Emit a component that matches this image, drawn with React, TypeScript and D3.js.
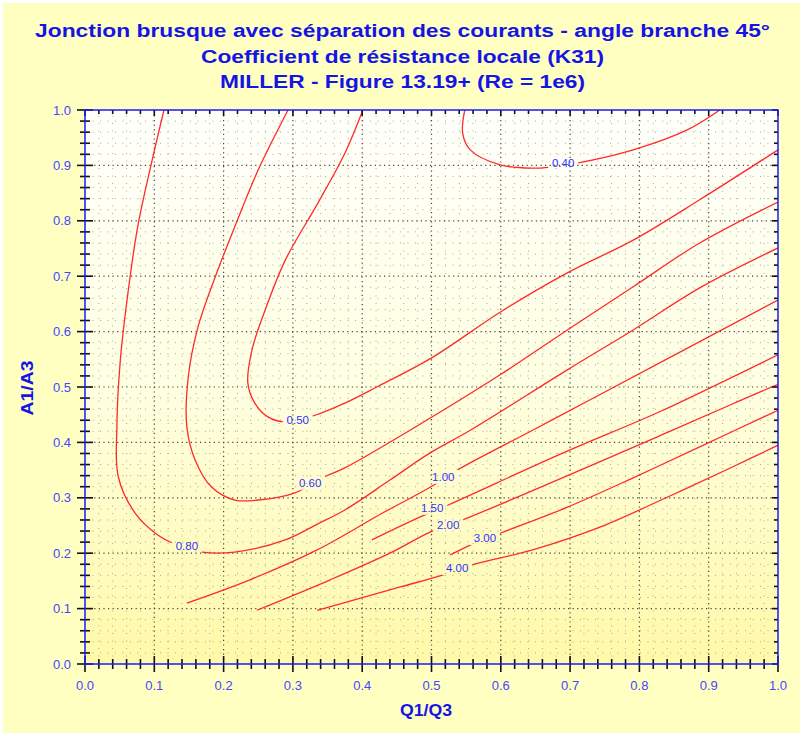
import React from "react";
import * as d3 from "d3";

// contour levels and the label spot of each one (Q1/Q3, A1/A3)
const levels = [0.4, 0.5, 0.6, 0.8, 1.0, 1.5, 2.0, 3.0, 4.0];
const labelPos: [number, number][] = [
  [0.69, 0.904], [0.307, 0.44], [0.325, 0.327], [0.147, 0.213], [0.517, 0.338],
  [0.501, 0.282], [0.524, 0.251], [0.577, 0.227], [0.537, 0.173],
];

// iso-lines
const k040: [number, number][] = [
  [0.548, 1.0], [0.545, 0.958], [0.556, 0.928], [0.599, 0.901], [0.646, 0.895], [0.671, 0.897],
  [0.71, 0.904], [0.791, 0.928], [0.869, 0.964], [0.916, 1.0],
];
const k050: [number, number][] = [
  [0.401, 1.0], [0.375, 0.922], [0.336, 0.832], [0.289, 0.729], [0.26, 0.639], [0.241, 0.567],
  [0.235, 0.507], [0.245, 0.471], [0.264, 0.446], [0.289, 0.437], [0.332, 0.449], [0.375, 0.471],
  [0.421, 0.5], [0.502, 0.554], [0.599, 0.635], [0.696, 0.706], [0.791, 0.765], [0.887, 0.838], [1.0, 0.928],
];
const k060: [number, number][] = [
  [0.293, 1.0], [0.25, 0.892], [0.216, 0.789], [0.188, 0.699], [0.163, 0.608], [0.149, 0.518],
  [0.147, 0.428], [0.159, 0.368], [0.183, 0.319], [0.216, 0.296], [0.25, 0.296], [0.303, 0.309],
  [0.346, 0.338], [0.375, 0.354], [0.469, 0.422], [0.599, 0.522], [0.696, 0.603], [0.791, 0.681],
  [0.887, 0.76], [1.0, 0.834],
];
const k080: [number, number][] = [
  [0.114, 1.0], [0.097, 0.91], [0.076, 0.789], [0.062, 0.67], [0.051, 0.549], [0.046, 0.428],
  [0.048, 0.338], [0.072, 0.273], [0.105, 0.233], [0.127, 0.218], [0.169, 0.202], [0.216, 0.202],
  [0.289, 0.224], [0.336, 0.253], [0.375, 0.278], [0.44, 0.332], [0.498, 0.381], [0.556, 0.422],
  [0.696, 0.531], [0.791, 0.603], [0.887, 0.679], [1.0, 0.751],
];
const k100: [number, number][] = [
  [0.147, 0.11], [0.238, 0.152], [0.335, 0.206], [0.43, 0.273], [0.498, 0.319], [0.537, 0.35],
  [0.646, 0.422], [0.729, 0.477], [1.0, 0.657],
];
const k150: [number, number][] = [
  [0.414, 0.224], [0.483, 0.265], [0.524, 0.287], [0.69, 0.381], [0.834, 0.458], [1.0, 0.558],
];
const k200: [number, number][] = [
  [0.248, 0.097], [0.354, 0.152], [0.44, 0.2], [0.498, 0.238], [0.545, 0.26], [0.848, 0.422],
  [0.941, 0.473], [1.0, 0.505],
];
const k300: [number, number][] = [
  [0.527, 0.197], [0.56, 0.217], [0.599, 0.236], [0.696, 0.283], [0.791, 0.336], [0.887, 0.392], [1.0, 0.458],
];
const k400: [number, number][] = [
  [0.335, 0.097], [0.455, 0.139], [0.517, 0.161], [0.558, 0.179], [0.646, 0.206], [0.743, 0.247],
  [0.84, 0.301], [0.935, 0.356], [1.0, 0.395],
];
const contours = [k040, k050, k060, k080, k100, k150, k200, k300, k400];

const ticks = [0, 0.1, 0.2, 0.3, 0.4, 0.5, 0.6, 0.7, 0.8, 0.9, 1.0];
const minorTicks = d3.range(0, 51).map((i) => i / 50).filter((v) => Math.round(v * 50) % 5 !== 0);

const titleLines = [
  "Jonction brusque avec séparation des courants - angle branche 45°",
  "Coefficient de résistance locale (K31)",
  "MILLER - Figure 13.19+ (Re = 1e6)",
];
const titleWidths = [735, 403, 365];

const W = 803;
const H = 736;
const font = "'Liberation Sans', Arial, sans-serif";

export default function App() {
  const x = d3.scaleLinear().domain([0, 1]).range([85, 778]);
  const y = d3.scaleLinear().domain([0, 1]).range([664, 110]);
  const line = d3
    .line<[number, number]>()
    .x((d) => x(d[0]))
    .y((d) => y(d[1]))
    .curve(d3.curveCatmullRom.alpha(0.5));

  const x0 = x(0), x1 = x(1), y0 = y(0), y1 = y(1);

  return (
    <svg width={W} height={H} style={{ position: "absolute", left: 0, top: 0 }} fontFamily={font}>
      <defs>
        <linearGradient id="plotbg" x1="0" y1="0" x2="0" y2="1">
          <stop offset="0" stopColor="#fffffb" />
          <stop offset="0.5" stopColor="#ffffe2" />
          <stop offset="1" stopColor="#fff9a8" />
        </linearGradient>
        <clipPath id="plotclip">
          <rect x={x0} y={y1} width={x1 - x0} height={y0 - y1} />
        </clipPath>
        <mask id="lblmask" maskUnits="userSpaceOnUse" x={0} y={0} width={W} height={H}>
          <rect x={0} y={0} width={W} height={H} fill="#fff" />
          {labelPos.map((p, i) => (
            <rect key={i} x={x(p[0]) - 15} y={y(p[1]) - 7} width={30} height={14} fill="#000" />
          ))}
        </mask>
      </defs>

      <rect x={0} y={0} width={W} height={H} fill="#ffffff" />
      <rect x={3} y={3} width={W - 6} height={H - 6} fill="#ffffc2" />
      <rect x={x0} y={y1} width={x1 - x0} height={y0 - y1} fill="url(#plotbg)" />

      {/* minor dotted grid */}
      <g stroke="#a9a996" strokeWidth={1} strokeDasharray="1,6.5">
        {minorTicks.map((t) => (
          <line key={"mv" + t} x1={x(t)} x2={x(t)} y1={y0} y2={y1} />
        ))}
        {minorTicks.map((t) => (
          <line key={"mh" + t} x1={x0} x2={x1} y1={y(t)} y2={y(t)} />
        ))}
      </g>
      {/* major dotted grid */}
      <g stroke="#444" strokeWidth={1.2} strokeDasharray="1.2,3.4">
        {ticks.slice(1, -1).map((t) => (
          <line key={"gv" + t} x1={x(t)} x2={x(t)} y1={y0} y2={y1} />
        ))}
        {ticks.slice(1, -1).map((t) => (
          <line key={"gh" + t} x1={x0} x2={x1} y1={y(t)} y2={y(t)} />
        ))}
      </g>

      {/* contours */}
      <g clipPath="url(#plotclip)">
        <g mask="url(#lblmask)" fill="none" stroke="#ff2a2a" strokeWidth={1.3}>
          {contours.map((c, i) => (
            <path key={i} d={line(c) || ""} />
          ))}
        </g>
      </g>
      <g fill="#3232ff" fontSize={11.5} textAnchor="middle" dominantBaseline="central">
        {labelPos.map((p, i) => (
          <text key={i} x={x(p[0])} y={y(p[1])}>
            {levels[i].toFixed(2)}
          </text>
        ))}
      </g>

      {/* ticks */}
      <g stroke="#111" strokeWidth={1.6}>
        {ticks.map((t) => (
          <g key={"tk" + t}>
            <line x1={x(t)} x2={x(t)} y1={y0 - 8} y2={y0 + 8} />
            <line x1={x0 - 8} x2={x0 + 8} y1={y(t)} y2={y(t)} />
            <line x1={x(t)} x2={x(t)} y1={y1} y2={y1 + 6} />
            <line x1={x1 - 6} x2={x1} y1={y(t)} y2={y(t)} />
          </g>
        ))}
        {minorTicks.map((t) => (
          <g key={"mt" + t}>
            <line x1={x(t)} x2={x(t)} y1={y0 - 5} y2={y0 + 5} />
            <line x1={x0 - 5} x2={x0 + 5} y1={y(t)} y2={y(t)} />
            <line x1={x(t)} x2={x(t)} y1={y1} y2={y1 + 4} />
            <line x1={x1 - 4} x2={x1} y1={y(t)} y2={y(t)} />
          </g>
        ))}
      </g>
      <rect x={x0} y={y1} width={x1 - x0} height={y0 - y1} fill="none" stroke="#1a1aff" strokeWidth={1.5} />

      {/* tick labels */}
      <g fill="#4646ff" fontSize={13}>
        {ticks.map((t) => (
          <text key={"xl" + t} x={x(t)} y={y0 + 26} textAnchor="middle">
            {t.toFixed(1)}
          </text>
        ))}
        {ticks.map((t) => (
          <text key={"yl" + t} x={x0 - 14} y={y(t) + 4.5} textAnchor="end">
            {t.toFixed(1)}
          </text>
        ))}
      </g>

      <g fill="#1414e6" fontWeight="bold">
        <text x={426} y={716} textAnchor="middle" fontSize={16} textLength={52} lengthAdjust="spacingAndGlyphs">
          Q1/Q3
        </text>
        <text
          transform={`translate(33,388) rotate(-90)`}
          textAnchor="middle"
          fontSize={16}
          textLength={55}
          lengthAdjust="spacingAndGlyphs"
        >
          A1/A3
        </text>
        <g fontSize={17.5} textAnchor="middle">
          {titleLines.map((t, i) => (
            <text key={i} x={402.5} y={37 + i * 25.5} textLength={titleWidths[i]} lengthAdjust="spacingAndGlyphs">
              {t}
            </text>
          ))}
        </g>
      </g>
    </svg>
  );
}
